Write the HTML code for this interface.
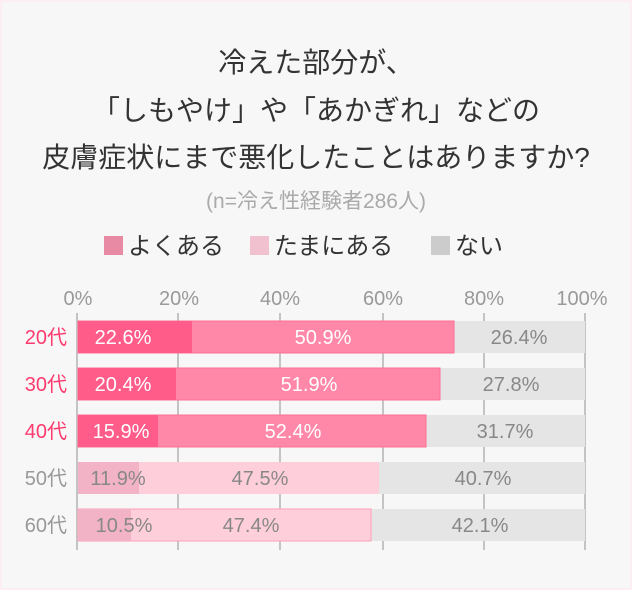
<!DOCTYPE html>
<html><head><meta charset="utf-8"><style>
body{margin:0;background:#fff}
svg{display:block}
text{font-family:"Liberation Sans","Noto Sans CJK JP",sans-serif}
</style></head><body>
<svg width="632" height="590" viewBox="0 0 632 590" xmlns="http://www.w3.org/2000/svg">
<rect x="0" y="0" width="632" height="590" fill="#fdeef3"/>
<rect x="2" y="2" width="628" height="586" fill="#f7f7f7"/>
<g fill="#333" font-size="28" text-anchor="middle">
<text x="316" y="72">冷えた部分が、</text>
<text x="316" y="120">「しもやけ」や「あかぎれ」などの</text>
<text x="316" y="167">皮膚症状にまで悪化したことはありますか?</text>
</g>
<text x="316" y="208" font-size="21" fill="#aaa" text-anchor="middle">(n=冷え性経験者286人)</text>
<g font-size="24" fill="#333">
<rect x="104" y="236" width="19" height="19" fill="#e98aa5"/><text x="128" y="254">よくある</text>
<rect x="250" y="236" width="19" height="19" fill="#f2c1d0"/><text x="274" y="254">たまにある</text>
<rect x="431" y="236" width="19" height="19" fill="#cccccc"/><text x="455" y="254">ない</text>
</g>
<g font-size="20" fill="#999" text-anchor="middle">
<text x="78" y="305">0%</text><text x="179" y="305">20%</text><text x="280" y="305">40%</text>
<text x="383" y="305">60%</text><text x="484" y="305">80%</text><text x="582" y="305">100%</text>
</g>
<g stroke="#c4c4c4" stroke-width="2">
<line x1="77" y1="313" x2="77" y2="550"/><line x1="178" y1="313" x2="178" y2="550"/>
<line x1="280" y1="313" x2="280" y2="550"/><line x1="383" y1="313" x2="383" y2="550"/>
<line x1="484" y1="313" x2="484" y2="550"/><line x1="585" y1="313" x2="585" y2="550"/>
</g>
<g font-size="20" text-anchor="middle">
<rect x="78" y="321" width="507" height="32" fill="#e5e5e5"/>
<rect x="78" y="321" width="376" height="32" fill="#ff88a8" stroke="#ff6f96" stroke-width="1"/>
<rect x="78" y="321" width="114" height="32" fill="#ff5c8a"/>
<text x="123" y="344" fill="#fff">22.6%</text><text x="323" y="344" fill="#fff">50.9%</text><text x="519" y="344" fill="#888">26.4%</text>
<rect x="78" y="368" width="507" height="32" fill="#e5e5e5"/>
<rect x="78" y="368" width="362" height="32" fill="#ff88a8" stroke="#ff6f96" stroke-width="1"/>
<rect x="78" y="368" width="98" height="32" fill="#ff5c8a"/>
<text x="123" y="391" fill="#fff">20.4%</text><text x="309" y="391" fill="#fff">51.9%</text><text x="511" y="391" fill="#888">27.8%</text>
<rect x="78" y="415" width="507" height="32" fill="#e5e5e5"/>
<rect x="78" y="415" width="348" height="32" fill="#ff88a8" stroke="#ff6f96" stroke-width="1"/>
<rect x="78" y="415" width="80" height="32" fill="#ff5c8a"/>
<text x="121" y="438" fill="#fff">15.9%</text><text x="293" y="438" fill="#fff">52.4%</text><text x="505" y="438" fill="#888">31.7%</text>
<rect x="78" y="462" width="507" height="32" fill="#e5e5e5"/>
<rect x="78" y="462" width="301" height="32" fill="#ffcedb"/>
<rect x="78" y="462" width="61" height="32" fill="#f2b3c6"/>
<text x="118" y="485" fill="#888">11.9%</text><text x="260" y="485" fill="#888">47.5%</text><text x="483" y="485" fill="#888">40.7%</text>
<rect x="78" y="509" width="507" height="32" fill="#e5e5e5"/>
<rect x="78" y="509" width="293" height="32" fill="#ffcedb" stroke="#ff9fba" stroke-width="1"/>
<rect x="78" y="509" width="53" height="32" fill="#f2b3c6"/>
<text x="124" y="532" fill="#888">10.5%</text><text x="251" y="532" fill="#888">47.4%</text><text x="480" y="532" fill="#888">42.1%</text>
</g>
<g font-size="20" text-anchor="end">
<text x="67" y="344" fill="#ff3a6e">20代</text>
<text x="67" y="391" fill="#ff3a6e">30代</text>
<text x="67" y="438" fill="#ff3a6e">40代</text>
<text x="67" y="485" fill="#999">50代</text>
<text x="67" y="532" fill="#999">60代</text>
</g>
</svg>
</body></html>
